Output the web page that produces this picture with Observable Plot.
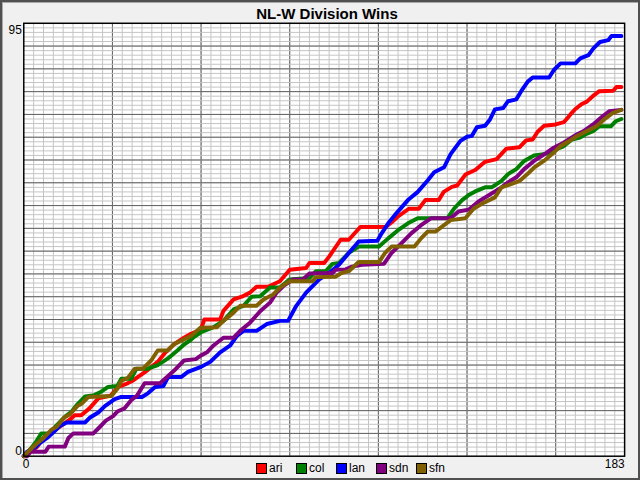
<!DOCTYPE html>
<html>
<head>
<meta charset="utf-8">
<script src="https://cdn.jsdelivr.net/npm/d3@7"></script>
<script src="https://cdn.jsdelivr.net/npm/@observablehq/plot@0.6"></script>
<style>
  html, body { margin: 0; padding: 0; background: #f0f0f0; }
  #wrap { position: relative; width: 640px; height: 480px; box-sizing: border-box;
          border: 2px solid #505050; box-shadow: inset 1px 1px 0 #a8a8a8; background: #f0f0f0;
          font-family: "Liberation Sans", Arial, sans-serif; overflow: hidden; }
  #title { position: absolute; left: 0; top: 1px; width: 650px; text-align: center;
           font-weight: bold; font-size: 15px; line-height: 22px; color: #000; }
  #chart { position: absolute; left: -2px; top: -2px; }
  #legend { position: absolute; left: 254px; top: 459px; display: flex; font-size: 12px; color: #000; }
  .item { display: flex; align-items: center; width: 40px; height: 14px; }
  .sw { width: 9px; height: 9px; border: 1px solid #000; margin-right: 2px; }
</style>
</head>
<body>
<div id="wrap">
  <div id="title">NL-W Division Wins</div>
  <div id="chart"></div>
  <div id="legend"></div>
</div>
<script>
const teams = ["ari", "col", "lan", "sdn", "sfn"];
const colors = ["#ff0000", "#008000", "#0000ff", "#800080", "#806000"];
const xTicks = [0, 183];
const yTicks = [0, 95];

// [day of season, cumulative wins]
const ari = [[0,0],[2,1],[4,2],[6,4],[8,5],[10,6],[12,7],[14,8],[15.5,9],[17.5,9],[20,10.5],[22.7,12.7],[26.5,13.3],[28.7,15.2],[31,15.8],[33,16.5],[34.8,17.4],[37,18.5],[40.8,20.7],[42.8,22.5],[45.8,24.6],[48.8,26],[50.8,26.8],[53.9,27.8],[55,30],[59.8,30],[60.8,31.9],[63.9,34.4],[66.4,35],[68.9,35.9],[70.9,37.2],[74.4,37.2],[78,38.4],[81,40.9],[86,41.3],[87,42.4],[91.5,42.4],[93,43.8],[96.5,47.5],[99,47.5],[102.5,50.3],[110.2,50.3],[112,51.3],[113.8,52.5],[117.3,54.3],[120.3,54.3],[122.3,56.2],[126.4,56.2],[127.9,58],[130.4,59.1],[132,59.4],[134.5,61.8],[137.5,62.8],[140.5,64.6],[144,65.2],[147,67.5],[151,67.8],[153,69.3],[155,69.5],[156.5,71.2],[158.5,72.5],[162,72.8],[164.5,73.3],[166.5,75],[168,76.2],[170,77.3],[171.5,77.8],[173.3,79],[175.3,80.1],[179.5,80.2],[180.5,81],[182,81]];
const col = [[0,0],[1.6,1.2],[3.6,3],[5.3,5],[8,5],[9.6,6.5],[12.6,8.7],[14.6,9.8],[16.1,11.2],[18.7,13.1],[21.5,13.4],[23.7,14.2],[25.7,15.2],[28.5,15.4],[29.7,17],[32.7,17],[34.3,19.2],[37.8,19.2],[40.8,20],[43.8,21.4],[46.8,23.2],[48.8,24.5],[50.8,25.5],[51.9,26.2],[54,27.2],[57.8,28.3],[60.8,29.7],[63.9,32.2],[66.9,33],[69.4,35],[72,35.1],[75,37],[78,37],[81,38.8],[87,39.1],[89,40.6],[92,40.6],[94,42.2],[96,42.4],[99,44.6],[102,46],[108.2,46],[111,47.8],[114,49.6],[117,51.1],[120,52.2],[129,52.2],[131,54.3],[133.5,56.2],[135.5,57.3],[137.5,58.1],[140.5,59],[142.5,59],[145.5,60.4],[147.5,61.9],[150,63],[152.4,64.8],[155.4,66],[159.4,66.4],[162,67.3],[164.4,68],[167,69.5],[169.4,69.9],[171,70.6],[173.4,71.3],[175.3,72.4],[178.8,72.4],[180.3,73.5],[182,74]];
const lan = [[0,0],[1,1],[3.6,2],[5.1,3],[7.1,4],[9.1,5.3],[11.1,6.7],[13.1,7.4],[18.7,7.4],[20.2,8.5],[22.7,9.6],[24.7,11],[27.7,12.5],[29.7,13],[36,13],[37.8,13.8],[40,15.2],[42.5,15.4],[44,17.4],[48,17.4],[50,18.5],[54,19.6],[56.8,20.7],[59.8,22.8],[62.9,24.3],[64.9,26.4],[66.9,27.5],[70.9,27.5],[74,29],[78,29.7],[80.5,29.7],[83,33],[86,35.9],[90,38.8],[93,40.2],[96,42],[99,44.6],[102,47.1],[107.7,47.3],[109,48.9],[111,51.1],[113,52.9],[117,56.2],[120,58],[123,60.5],[125,62.3],[128,63.4],[130,66.3],[133,69.2],[135,70.1],[136.5,70.3],[138,72.2],[140.5,72.5],[142,73.9],[143.5,76.1],[146,76.4],[147.5,77.9],[150,78.3],[151.5,80.1],[153.5,82.2],[155,83.1],[160,83.1],[161.5,84.8],[163.5,86.2],[168,86.2],[169.5,87.3],[172,88],[173.5,89.5],[175.5,90.9],[178,91.3],[179,92.2],[182,92.2]];
const sdn = [[0,0],[1,0],[2.1,1],[6.6,1],[7.6,2.1],[12.5,2.1],[13.6,4],[15.1,5],[21.2,5],[23,6.3],[25,7.8],[27.2,8.8],[28.5,9.8],[30.7,10.5],[32.7,12.3],[34.5,13.3],[36.8,16],[41.5,16],[43.8,17.5],[45.8,18.8],[48.8,21],[52.4,21.3],[54,22.1],[55.8,22.8],[57.8,24.3],[60.8,26],[63.9,26],[65.9,27.5],[68.9,29.3],[72,31.8],[75,33.7],[77,35.9],[79,37.3],[82,38.8],[85,38.8],[87,40.1],[94,40.2],[95,40.9],[98,41],[100,41.6],[103,42],[109.7,42.2],[112,44.6],[115,46.7],[118,48.9],[121,50.7],[124,52.2],[130,52.2],[132.4,53.7],[135.5,54.1],[138.5,55.9],[141,57],[145.5,59],[147.5,60.1],[150,61.2],[152.4,63],[155.4,64.8],[158.4,66.2],[161.4,67.7],[164.4,68.8],[168.4,70.6],[170.4,71.3],[173.4,72.8],[176.3,74.6],[178.3,75.7],[182,76]];
const sfn = [[0,0],[1.6,1.2],[3.6,2.5],[5.6,3.7],[8.4,5.8],[10.1,6.5],[12.3,8.5],[14.1,9.2],[16.3,11],[17.6,11.5],[19.7,13],[26.7,13.2],[28.5,14.8],[29.7,16.5],[31.7,17.2],[33.8,19.2],[36.3,19.2],[38.8,21],[40.8,23.2],[43.8,23.2],[45.8,24.6],[49.8,26],[51,26.4],[53.8,28.2],[58.8,28.3],[60.8,29.7],[63.9,31.5],[65.9,33],[70.9,33],[73,34.4],[76,35.5],[78,37],[81,38.4],[88,38.4],[89,39.3],[95,39.4],[96.5,40.1],[99,40.6],[102,42.6],[108.2,42.6],[110,44.6],[112,46],[119,46],[121,47.8],[123,49.3],[125.4,49.3],[128,50.7],[130,51.8],[134.5,52.2],[137,54.3],[139.5,55.4],[143.5,56.8],[145.5,59],[148.4,59.7],[151,60.4],[153.4,61.9],[155.4,63.3],[158.4,64.8],[161.4,66.6],[163.4,68],[166,69.1],[168.4,70.2],[171.4,71.3],[174.4,72.4],[177.3,74.2],[179.3,75.3],[182,76]];

const series = {ari, col, lan, sdn, sfn};
const rows = teams.flatMap(t => series[t].map(([day, wins]) => ({team: t, day, wins})));

const minorX = d3.range(3, 183, 3);
const majorX = d3.range(27, 183, 27);
const minorY = d3.range(1, 95, 1);
const majorY = d3.range(5, 95, 5);

const chart = Plot.plot({
  width: 644, height: 484,
  marginLeft: 23.5, marginRight: 14, marginTop: 23, marginBottom: 24,
  x: {domain: [0, 183], axis: null, label: null},
  y: {domain: [0, 95], axis: null, label: null},
  color: {domain: teams, range: colors},
  style: {background: "transparent", fontFamily: "'Liberation Sans', Arial, sans-serif", fontSize: "12px", color: "#000"},
  marks: [
    Plot.frame({fill: "white", stroke: null}),
    Plot.ruleX(minorX, {stroke: "#c4c4c4", strokeWidth: 1}),
    Plot.ruleX(majorX, {stroke: "#606060", strokeWidth: 1}),
    Plot.ruleY(minorY, {stroke: "#c4c4c4", strokeWidth: 1}),
    Plot.ruleY(majorY, {stroke: "#606060", strokeWidth: 1}),
    Plot.line(rows, {x: "day", y: "wins", z: "team", stroke: "team", strokeWidth: 4, strokeLinejoin: "round"}),
    Plot.frame({stroke: "#000", strokeWidth: 1.5}),
    Plot.axisX([xTicks[0]], {tickSize: 0, tickPadding: 3, textAnchor: "start", dx: -1, fontSize: 12, fill: "#000", label: null}),
    Plot.axisX([xTicks[1]], {tickSize: 0, tickPadding: 3, textAnchor: "end", fontSize: 12, fill: "#000", label: null}),
    Plot.axisY([yTicks[1]], {tickSize: 0, tickPadding: 2, dy: 7, fontSize: 12, fill: "#000", label: null}),
    Plot.axisY([yTicks[0]], {tickSize: 0, tickPadding: 2, dy: -5, fontSize: 12, fill: "#000", label: null})
  ]
});
document.getElementById("chart").appendChild(chart);

const legend = document.getElementById("legend");
teams.forEach((t, i) => {
  const item = document.createElement("div");
  item.className = "item";
  const sw = document.createElement("div");
  sw.className = "sw";
  sw.style.background = colors[i];
  const lab = document.createElement("span");
  lab.textContent = t;
  item.appendChild(sw);
  item.appendChild(lab);
  legend.appendChild(item);
});
</script>
</body>
</html>
